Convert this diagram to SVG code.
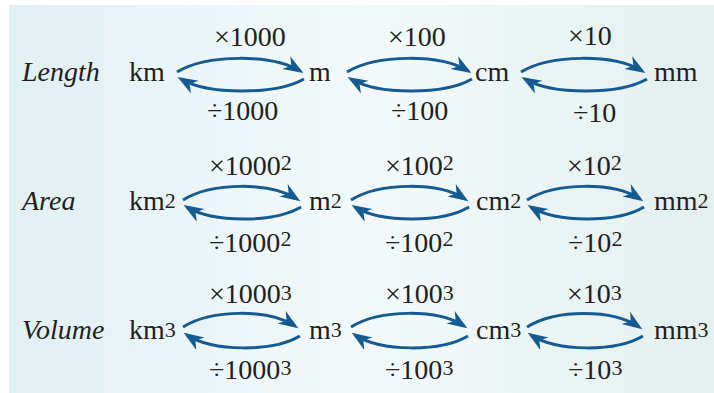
<svg xmlns="http://www.w3.org/2000/svg" width="714" height="393" viewBox="0 0 714 393">
<style>
.t{font-family:'Liberation Serif','Times New Roman',serif;font-size:28px;fill:#231f20}
.it{font-style:italic}
.sup{font-size:22px}
.arc{fill:none;stroke:#155a92;stroke-width:3}
</style>
<defs>
<linearGradient id="bg" x1="0" y1="0" x2="1" y2="0">
<stop offset="0" stop-color="#e1f0f2"/>
<stop offset="0.5" stop-color="#f3f9fb"/>
<stop offset="1" stop-color="#e3f0ee"/>
</linearGradient>
<marker id="ah" markerUnits="userSpaceOnUse" viewBox="-17 -8 22 16" markerWidth="22" markerHeight="16" refX="0" refY="0" orient="auto">
<path d="M4,0 L-16,-7.5 L-10,0 L-16,7.5 Z" fill="#155a92"/>
</marker>
</defs>
<rect x="9" y="5" width="705" height="388" fill="url(#bg)"/>
<g id="connectors" marker-end="url(#ah)">
<path class="arc" d="M177,72 C207,54 272,54 300,71"/>
<path class="arc" d="M304,79 C276,95 208,95 181,79"/>
<path class="arc" d="M347,72 C377,54 440,54 468,71"/>
<path class="arc" d="M472,79 C444,95 378,95 351,79"/>
<path class="arc" d="M521,72 C551,54 614,54 642,71"/>
<path class="arc" d="M647,79 C619,95 552,95 525,79"/>
<path class="arc" d="M183,200 C212,182 271,182 297,199"/>
<path class="arc" d="M301,207 C274,223 213,223 187,207"/>
<path class="arc" d="M351,200 C380,182 439,182 465,199"/>
<path class="arc" d="M469,207 C442,223 381,223 355,207"/>
<path class="arc" d="M527,200 C556,182 614,182 640,199"/>
<path class="arc" d="M644,207 C617,223 557,223 531,207"/>
<path class="arc" d="M183,327 C212,309 269,309 295,326"/>
<path class="arc" d="M300,336 C273,352 213,352 187,335"/>
<path class="arc" d="M351,327 C380,309 438,309 464,326"/>
<path class="arc" d="M468,336 C441,352 381,352 355,335"/>
<path class="arc" d="M527,327 C556,309 613,309 639,327"/>
<path class="arc" d="M643,336 C616,352 557,352 531,335"/>
</g>
<g id="labels">
<text class="t" style="font-family:'Liberation Serif',serif" x="214" y="46">×1000</text>
<text class="t" style="font-family:'Liberation Serif',serif" x="207" y="120">÷1000</text>
<text class="t" style="font-family:'Liberation Serif',serif" x="388" y="46">×100</text>
<text class="t" style="font-family:'Liberation Serif',serif" x="391" y="120">÷100</text>
<text class="t" style="font-family:'Liberation Serif',serif" x="568" y="45">×10</text>
<text class="t" style="font-family:'Liberation Serif',serif" x="573" y="122">÷10</text>
<text class="t" style="font-family:'Liberation Serif',serif" x="209" y="175">×1000<tspan class="sup" dy="-5">2</tspan></text>
<text class="t" style="font-family:'Liberation Serif',serif" x="209" y="252">÷1000<tspan class="sup" dy="-6">2</tspan></text>
<text class="t" style="font-family:'Liberation Serif',serif" x="385" y="175">×100<tspan class="sup" dy="-5">2</tspan></text>
<text class="t" style="font-family:'Liberation Serif',serif" x="385" y="252">÷100<tspan class="sup" dy="-6">2</tspan></text>
<text class="t" style="font-family:'Liberation Serif',serif" x="567" y="175">×10<tspan class="sup" dy="-5">2</tspan></text>
<text class="t" style="font-family:'Liberation Serif',serif" x="568" y="252">÷10<tspan class="sup" dy="-6">2</tspan></text>
<text class="t" style="font-family:'Liberation Serif',serif" x="209" y="303">×1000<tspan class="sup" dy="-3">3</tspan></text>
<text class="t" style="font-family:'Liberation Serif',serif" x="209" y="379">÷1000<tspan class="sup" dy="-4">3</tspan></text>
<text class="t" style="font-family:'Liberation Serif',serif" x="385" y="303">×100<tspan class="sup" dy="-3">3</tspan></text>
<text class="t" style="font-family:'Liberation Serif',serif" x="385" y="379">÷100<tspan class="sup" dy="-4">3</tspan></text>
<text class="t" style="font-family:'Liberation Serif',serif" x="567" y="303">×10<tspan class="sup" dy="-3">3</tspan></text>
<text class="t" style="font-family:'Liberation Serif',serif" x="568" y="379">÷10<tspan class="sup" dy="-4">3</tspan></text>
</g>
<g id="row-length">
<text class="t it" style="font-family:'Liberation Serif',serif" x="22" y="81">Length</text>
<g id="km"><text class="t" style="font-family:'Liberation Serif',serif" x="129" y="81">km</text></g>
<g id="m"><text class="t" style="font-family:'Liberation Serif',serif" x="309" y="81">m</text></g>
<g id="cm"><text class="t" style="font-family:'Liberation Serif',serif" x="475" y="81">cm</text></g>
<g id="mm"><text class="t" style="font-family:'Liberation Serif',serif" x="654" y="81">mm</text></g>
</g>
<g id="row-area">
<text class="t it" style="font-family:'Liberation Serif',serif" x="22" y="210">Area</text>
<g id="km2"><text class="t" style="font-family:'Liberation Serif',serif" x="129" y="210">km<tspan class="sup" dy="-2">2</tspan></text></g>
<g id="m2"><text class="t" style="font-family:'Liberation Serif',serif" x="309" y="210">m<tspan class="sup" dy="-2">2</tspan></text></g>
<g id="cm2"><text class="t" style="font-family:'Liberation Serif',serif" x="476" y="210">cm<tspan class="sup" dy="-2">2</tspan></text></g>
<g id="mm2"><text class="t" style="font-family:'Liberation Serif',serif" x="654" y="210">mm<tspan class="sup" dy="-2">2</tspan></text></g>
</g>
<g id="row-volume">
<text class="t it" style="font-family:'Liberation Serif',serif" x="22" y="339">Volume</text>
<g id="km3"><text class="t" style="font-family:'Liberation Serif',serif" x="129" y="339">km<tspan class="sup" dy="-2">3</tspan></text></g>
<g id="m3"><text class="t" style="font-family:'Liberation Serif',serif" x="309" y="339">m<tspan class="sup" dy="-2">3</tspan></text></g>
<g id="cm3"><text class="t" style="font-family:'Liberation Serif',serif" x="476" y="339">cm<tspan class="sup" dy="-2">3</tspan></text></g>
<g id="mm3"><text class="t" style="font-family:'Liberation Serif',serif" x="654" y="339">mm<tspan class="sup" dy="-2">3</tspan></text></g>
</g>
</svg>
